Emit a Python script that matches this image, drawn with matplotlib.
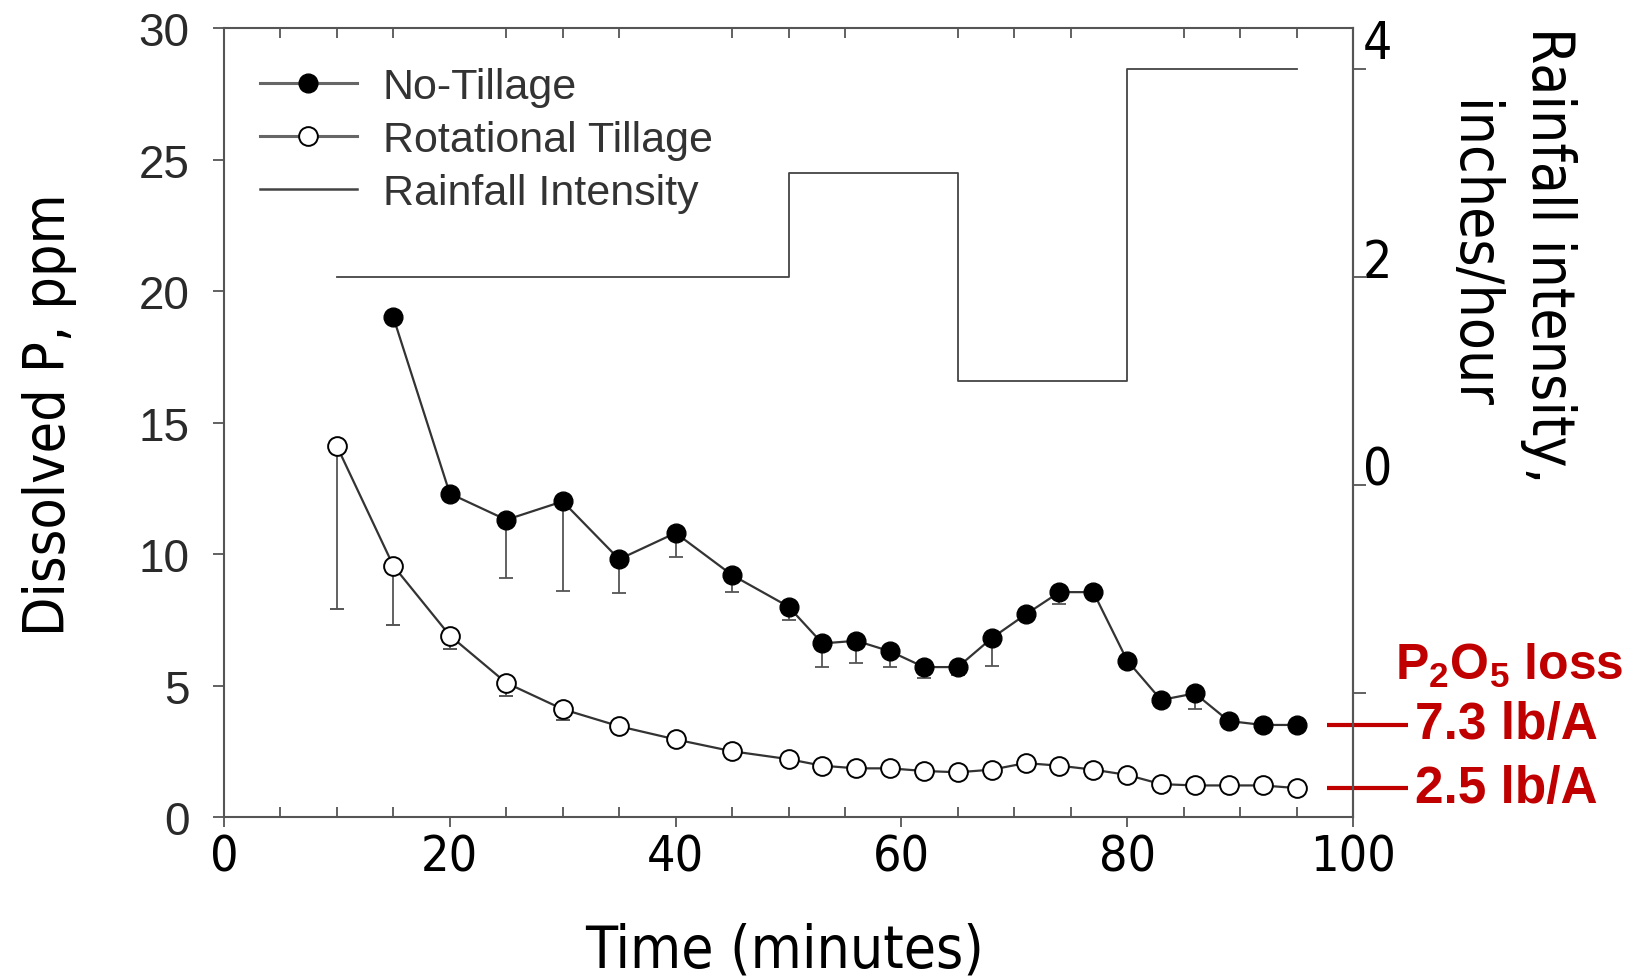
import numpy as np
import matplotlib
matplotlib.use("Agg")
import matplotlib.pyplot as plt
from matplotlib.ticker import MultipleLocator
from matplotlib.lines import Line2D
from matplotlib.font_manager import FontProperties

# values
t_nt = [15, 20, 25, 30, 35, 40, 45, 50, 53, 56, 59, 62, 65, 68, 71, 74, 77, 80, 83, 86, 89, 92, 95]
p_nt = [19.0, 12.3, 11.3, 12.0, 9.8, 10.8, 9.2, 8.0, 6.6, 6.7, 6.3, 5.7, 5.7, 6.8,
        7.7, 8.55, 8.55, 5.95, 4.45, 4.7, 3.65, 3.5, 3.5]
err_nt = [0, 0, 2.2, 3.4, 1.3, 0.9, 0.65, 0.5, 0.9, 0.85, 0.6, 0.4, 0.3, 1.05,
          0, 0.45, 0, 0, 0, 0.6, 0, 0, 0]

t_rt = [10, 15, 20, 25, 30, 35, 40, 45, 50, 53, 56, 59, 62, 65, 68, 71, 74, 77, 80, 83, 86, 89, 92, 95]
p_rt = [14.1, 9.55, 6.9, 5.1, 4.1, 3.45, 2.95, 2.5, 2.2, 1.95, 1.85, 1.85, 1.75, 1.7,
        1.8, 2.05, 1.95, 1.8, 1.6, 1.25, 1.2, 1.2, 1.2, 1.1]
err_rt = [6.2, 2.25, 0.5, 0.5, 0.4, 0, 0, 0, 0, 0, 0, 0, 0, 0,
          0, 0, 0, 0, 0, 0, 0, 0, 0, 0]

# rainfall intensity (inches/hour), step starts
rain_t = [10, 50, 65, 80, 95]
rain_i = [2, 3, 1, 4, 4]

loss_labels = ["7.3 lb/A", "2.5 lb/A"]

plt.rcParams['mathtext.fontset'] = 'custom'
plt.rcParams['mathtext.rm'] = 'Liberation Sans:bold'
plt.rcParams['mathtext.bf'] = 'Liberation Sans:bold'

cond = dict(family='DejaVu Sans', stretch='condensed')
red = '#c00000'
W, H = 1647, 979

fig = plt.figure(figsize=(W / 100, H / 100), dpi=100)
ax = fig.add_axes([224 / W, 1 - 818 / H, (1353 - 224) / W, (818 - 29) / H])
ax2 = ax.twinx()

# data
ax.errorbar(t_nt, p_nt, yerr=[err_nt, np.zeros(len(err_nt))], fmt='-o', color='#333333',
            lw=1.6, mfc='black', mec='black', ms=13.5, ecolor='#555555',
            elinewidth=1.3, capsize=5, capthick=1.3, zorder=3)
ax.errorbar(t_rt, p_rt, yerr=[err_rt, np.zeros(len(err_rt))], fmt='-o', color='#333333',
            lw=1.6, mfc='white', mec='black', mew=1.4, ms=13.5, ecolor='#555555',
            elinewidth=1.3, capsize=5, capthick=1.3, zorder=3)
ax2.plot(rain_t, rain_i, drawstyle='steps-post', color='#444444', lw=1.3)

# axes
ax.set_xlim(0, 100)
ax.set_ylim(0, 30)
ax.set_xticks([0, 20, 40, 60, 80, 100])
ax.xaxis.set_minor_locator(MultipleLocator(5))
ax.set_yticks([0, 5, 10, 15, 20, 25, 30])
ax.tick_params(axis='x', which='major', direction='out', length=7, width=1.3,
               color='#555555', pad=4, labelsize=36, top=False)
ax.tick_params(axis='x', which='minor', direction='in', length=7, width=1.3,
               color='#555555', top=True, bottom=True)
ax.tick_params(axis='y', which='major', direction='out', length=8, width=1.3,
               color='#555555', pad=17, labelsize=33, labelcolor='#2a2a2a', right=False)
for lbl in ax.get_xticklabels():
    lbl.set_fontproperties(FontProperties(size=36, **cond))
for lbl in ax.get_yticklabels():
    lbl.set_fontfamily('Liberation Sans')

ax2.set_ylim(-3.19, 4.39)
ax2.set_yticks([-2, 0, 2, 4])
ax2.set_yticklabels(['', '0', '2', '4'])
ax2.tick_params(axis='y', direction='out', length=9, width=1.3, color='#555555', pad=-2)
# labels on the right axis sit a little above their ticks
for lbl, va in zip(ax2.get_yticklabels(), ['baseline', 'baseline', 'baseline', 'bottom']):
    lbl.set_fontproperties(FontProperties(size=37, **cond))
    lbl.set_va(va)

for s in ax.spines.values():
    s.set_color('#555555')
    s.set_linewidth(1.5)
for k, s in ax2.spines.items():
    s.set_visible(k == 'right')
    s.set_color('#555555')
    s.set_linewidth(1.5)

# legend
handles = [
    Line2D([], [], color='#666666', lw=2.2, marker='o', mfc='black', mec='black', ms=13.5),
    Line2D([], [], color='#666666', lw=2.2, marker='o', mfc='white', mec='black', mew=1.4, ms=13.5),
    Line2D([], [], color='#444444', lw=1.8),
]
leg = ax.legend(handles, ['No-Tillage', 'Rotational Tillage', 'Rainfall Intensity'],
                loc='upper left', bbox_to_anchor=(260 / W, 1 - 68 / H),
                bbox_transform=fig.transFigure, frameon=False, borderpad=0,
                borderaxespad=0, handlelength=2.25, handletextpad=0.6,
                labelspacing=0.3, prop={'family': 'Liberation Sans', 'size': 31})
for txt in leg.get_texts():
    txt.set_color('#333333')

# axis titles
fig.text(785 / W, 1 - 968 / H, 'Time (minutes)', ha='center', va='baseline',
         fontsize=42, **cond)
fig.text(50 / W, 1 - 415 / H, 'Dissolved P, ppm', ha='center', va='center',
         rotation=90, fontsize=41, **cond)
fig.text(1510 / W, 1 - 255 / H, 'Rainfall intensity,\ninches/hour', ha='center',
         va='center', rotation=270, fontsize=42, linespacing=1.45, **cond)

# P2O5 loss notes
ax.text(103.7, 5.25, r'P$_{2}$O$_{5}$ loss', color=red, fontsize=36, fontweight='bold',
        family='Liberation Sans', ha='left', va='baseline', clip_on=False)
for y, lab in zip([p_nt[-1], p_rt[-1]], loss_labels):
    ax.plot([97.7, 104.9], [y, y], color=red, lw=3, clip_on=False, solid_capstyle='butt')
    ax.text(105.5, y, lab, color=red, fontsize=37, fontweight='bold',
            family='Liberation Sans', ha='left', va='center', clip_on=False)

fig.savefig('out.png', dpi=100)
